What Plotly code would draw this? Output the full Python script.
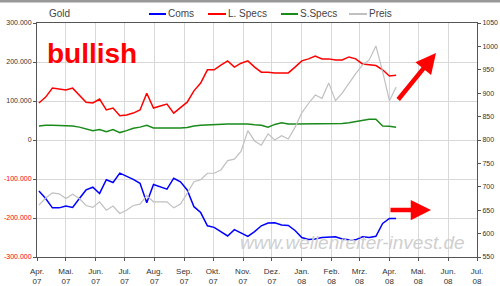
import plotly.graph_objects as go

dates = ["2007-04-03", "2007-04-10", "2007-04-17", "2007-04-24", "2007-05-01", "2007-05-08",
         "2007-05-15", "2007-05-22", "2007-05-29", "2007-06-05", "2007-06-12", "2007-06-19",
         "2007-06-26", "2007-07-03", "2007-07-10", "2007-07-17", "2007-07-24", "2007-07-31",
         "2007-08-07", "2007-08-14", "2007-08-21", "2007-08-28", "2007-09-04", "2007-09-11",
         "2007-09-18", "2007-09-25", "2007-10-02", "2007-10-09", "2007-10-16", "2007-10-23",
         "2007-10-30", "2007-11-06", "2007-11-13", "2007-11-20", "2007-11-27", "2007-12-04",
         "2007-12-11", "2007-12-18", "2007-12-25", "2008-01-01", "2008-01-08", "2008-01-15",
         "2008-01-22", "2008-01-29", "2008-02-05", "2008-02-12", "2008-02-19", "2008-02-26",
         "2008-03-04", "2008-03-11", "2008-03-18", "2008-03-25", "2008-04-01", "2008-04-08"]

coms = [-131000, -150000, -174000, -174000, -169000, -173000, -150000, -128000, -121000, -137000,
        -102000, -109000, -85000, -92000, -101000, -111000, -161000, -114000, -120000, -126000,
        -98000, -107000, -128000, -171000, -186000, -220000, -224000, -235000, -246000, -230000,
        -239000, -247000, -235000, -220000, -213000, -212000, -218000, -219000, -232000, -250000,
        -255000, -254000, -250000, -249000, -248000, -254000, -256000, -256000, -248000, -250000,
        -247000, -214000, -201000, -201000]

l_specs = [95000, 110000, 133000, 131000, 128000, 133000, 115000, 97000, 95000, 105000,
           77000, 82000, 62000, 64000, 69000, 77000, 120000, 82000, 87000, 92000,
           69000, 82000, 97000, 126000, 146000, 180000, 180000, 192000, 203000, 187000,
           197000, 203000, 187000, 174000, 174000, 172000, 172000, 172000, 187000, 203000,
           208000, 215000, 208000, 208000, 205000, 205000, 213000, 208000, 195000, 193000,
           191000, 180000, 164000, 166000]

s_specs = [36000, 38000, 38000, 37000, 36000, 36000, 33000, 29000, 24000, 27000,
           21000, 27000, 19000, 24000, 30000, 33000, 38000, 31000, 31000, 30000,
           30000, 31000, 32000, 36000, 38000, 39000, 40000, 40000, 41000, 41000,
           41000, 41000, 39000, 38000, 33000, 40000, 44000, 41000, 41000, 41000,
           41000, 41000, 41000, 41000, 41000, 42000, 44000, 47000, 50000, 53000,
           53000, 36000, 35000, 33000]

preis = [661, 676, 687, 685, 675, 684, 675, 660, 656, 668,
         650, 659, 643, 650, 660, 663, 681, 668, 668, 668,
         655, 663, 686, 711, 715, 729, 729, 736, 756, 759,
         776, 820, 798, 789, 813, 800, 809, 802, 827, 858,
         878, 896, 889, 922, 884, 900, 921, 942, 960, 971,
         1001, 946, 884, 913]

month_ticks = ["2007-04-01", "2007-05-01", "2007-06-01", "2007-07-01", "2007-08-01", "2007-09-01",
               "2007-10-01", "2007-11-01", "2007-12-01", "2008-01-01", "2008-02-01", "2008-03-01",
               "2008-04-01", "2008-05-01", "2008-06-01", "2008-07-01"]
month_labels = ["Apr.<br>07", "Mai.<br>07", "Jun.<br>07", "Jul.<br>07", "Aug.<br>07", "Sep.<br>07",
                "Okt.<br>07", "Nov.<br>07", "Dez.<br>07", "Jan.<br>08", "Feb.<br>08", "Mrz.<br>08",
                "Apr.<br>08", "Mai.<br>08", "Jun.<br>08", "Jul.<br>08"]

left_vals = [-300000, -200000, -100000, 0, 100000, 200000, 300000]
left_labels = ["-300.000", "-200.000", "-100.000", "0", "100.000", "200.000", "300.000"]
right_vals = [550, 600, 650, 700, 750, 800, 850, 900, 950, 1000, 1050]

series_names = ["Coms", "L. Specs", "S.Specs", "Preis"]
series_colors = ["#0000ff", "#ff0000", "#1a8a1a", "#c0c0c0"]

W, H = 500, 286
ML, MR, MT, MB = 37, 23, 23, 29
PW, PH = W - ML - MR, H - MT - MB


def px2paper(x, y):
    return (x - ML) / PW, (H - MB - y) / PH


fig = go.Figure()
fig.add_trace(go.Scatter(x=dates, y=preis, yaxis="y2", mode="lines",
                         line=dict(color=series_colors[3], width=1.2), name="Preis"))
fig.add_trace(go.Scatter(x=dates, y=s_specs, mode="lines",
                         line=dict(color=series_colors[2], width=1.5), name="S.Specs"))
fig.add_trace(go.Scatter(x=dates, y=l_specs, mode="lines",
                         line=dict(color=series_colors[1], width=1.5), name="L. Specs"))
fig.add_trace(go.Scatter(x=dates, y=coms, mode="lines",
                         line=dict(color=series_colors[0], width=1.5), name="Coms"))

ticktext_left = [
    ("<span style='color:#ff0000'>%s</span>" % t) if v < 0 else t
    for v, t in zip(left_vals, left_labels)
]

axis_col = "#555555"
grid_col = "#d9d9d9"
tick_font = dict(family="Liberation Sans, Arial, sans-serif", size=7, color="#333333")

fig.update_layout(
    width=W, height=H,
    margin=dict(l=ML, r=MR, t=MT, b=MB, pad=0, autoexpand=False),
    paper_bgcolor="white", plot_bgcolor="white",
    showlegend=False,
    font=dict(family="Liberation Sans, Arial, sans-serif", color="#333333"),
    xaxis=dict(type="date", range=["2007-04-01", "2008-07-01"],
               tickvals=month_ticks, ticktext=month_labels, automargin=False,
               tickfont=dict(family="Liberation Sans, Arial, sans-serif", size=8, color="#333333"),
               ticklabelstandoff=3,
               showgrid=True, gridcolor=grid_col, gridwidth=1,
               showline=True, linecolor=axis_col, linewidth=1, mirror=True,
               ticks="outside", ticklen=3, tickcolor=axis_col, zeroline=False),
    yaxis=dict(range=[-300000, 300000], tickvals=left_vals, ticktext=ticktext_left,
               automargin=False,
               tickfont=tick_font, showgrid=True, gridcolor=grid_col, gridwidth=1,
               showline=True, linecolor=axis_col, linewidth=1,
               ticks="outside", ticklen=3, tickcolor=axis_col, zeroline=False),
    yaxis2=dict(range=[550, 1050], tickvals=right_vals, overlaying="y", side="right",
                automargin=False,
                tickfont=tick_font, showgrid=False,
                showline=True, linecolor=axis_col, linewidth=1,
                ticks="outside", ticklen=3, tickcolor=axis_col, zeroline=False),
)

shapes = []
annotations = []

# top gray bar
x0, y0 = px2paper(0, 0)
x1, y1 = px2paper(W, 2.5)
shapes.append(dict(type="rect", xref="paper", yref="paper", x0=x0, x1=x1, y0=y1, y1=y0,
                   fillcolor="#999999", line=dict(width=0), layer="above"))

# title "Gold"
gx, gy = px2paper(47, 14)
annotations.append(dict(text="Gold", x=gx, y=gy, xref="paper", yref="paper", showarrow=False,
                        xanchor="left", yanchor="middle",
                        font=dict(size=10, color="#444444")))

# legend
leg = [(149, 166, "Coms"), (208, 226, "L. Specs"), (281, 298, "S.Specs"), (349, 367, "Preis")]
for (lx0, lx1, name), col in zip(leg, series_colors):
    a, b = px2paper(lx0, 14)
    c, _ = px2paper(lx1, 14)
    shapes.append(dict(type="line", xref="paper", yref="paper", x0=a, x1=c, y0=b, y1=b,
                       line=dict(color=col, width=2)))
    tx, _ = px2paper(lx1, 14)
    annotations.append(dict(text=name, x=tx, y=b, xref="paper", yref="paper", showarrow=False,
                            xanchor="left", yanchor="middle",
                            font=dict(size=10, color="#444444")))

# "bullish"
bx, by = px2paper(45, 53)
annotations.append(dict(text="<b>bullish</b>", x=bx, y=by, xref="paper", yref="paper",
                        showarrow=False, xanchor="left", yanchor="middle",
                        font=dict(size=28, color="#ff0000")))

# watermark
wx, wy = px2paper(467, 242)
annotations.append(dict(text="<i>www.wellenreiter-invest.de</i>", x=wx, y=wy, xref="paper",
                        yref="paper", showarrow=False, xanchor="right", yanchor="middle",
                        font=dict(size=19, color="#cfcfcf")))

# arrows
ux, uy = px2paper(436, 53)
annotations.append(dict(text="", x=ux, y=uy, xref="paper", yref="paper", showarrow=True,
                        ax=-39, ay=48, axref="pixel", ayref="pixel",
                        arrowhead=2, arrowsize=0.9, arrowwidth=4.5, arrowcolor="#ff0000",
                        standoff=0))
rx, ry = px2paper(431, 210)
annotations.append(dict(text="", x=rx, y=ry, xref="paper", yref="paper", showarrow=True,
                        ax=-42, ay=0, axref="pixel", ayref="pixel",
                        arrowhead=2, arrowsize=0.9, arrowwidth=4.5, arrowcolor="#ff0000",
                        standoff=0))

fig.update_layout(shapes=shapes, annotations=annotations)
fig.write_html("out.html")
